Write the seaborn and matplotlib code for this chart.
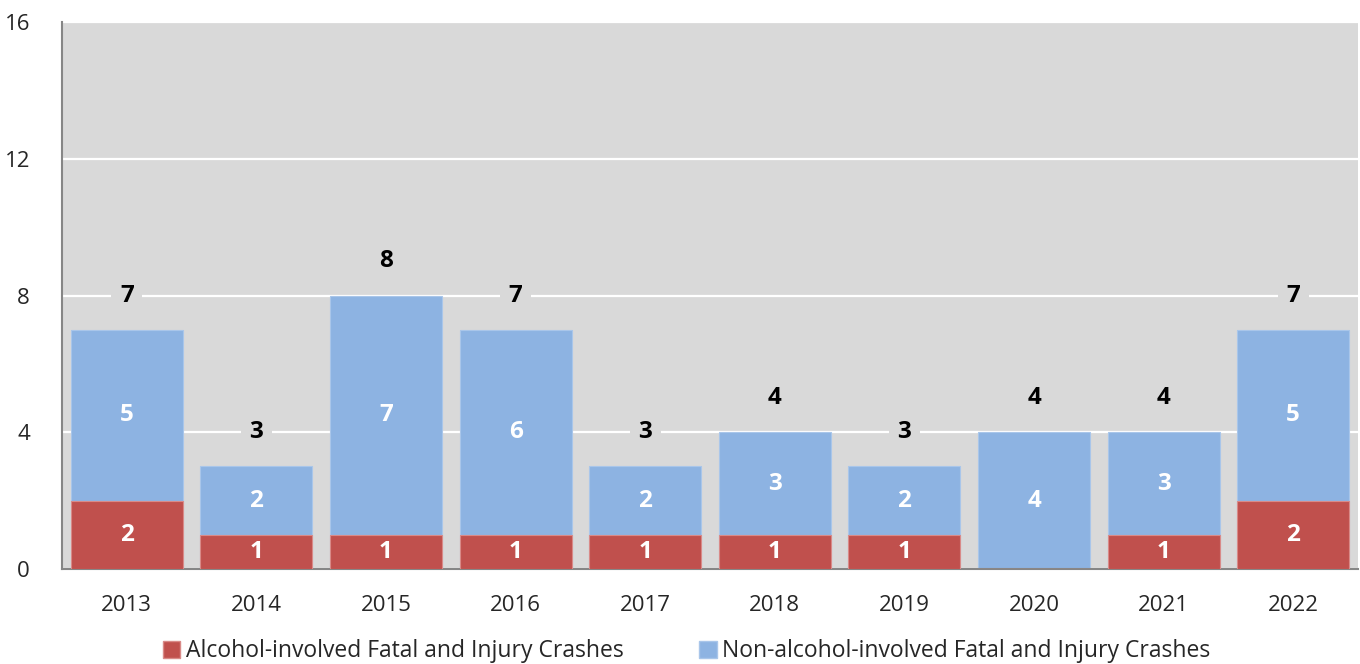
import numpy as np
import pandas as pd
import matplotlib
matplotlib.use("Agg")
import matplotlib.pyplot as plt
import seaborn as sns
from matplotlib.patches import Patch
from matplotlib.ticker import FixedLocator

years = ["2013", "2014", "2015", "2016", "2017", "2018", "2019", "2020", "2021", "2022"]
alcohol = [2, 1, 1, 1, 1, 1, 1, 0, 1, 2]
non_alcohol = [5, 2, 7, 6, 2, 3, 2, 4, 3, 5]
series_names = ["Alcohol-involved Fatal and Injury Crashes",
                "Non-alcohol-involved Fatal and Injury Crashes"]

RED = "#C0504D"
BLUE = "#8DB3E2"
BG = "#D9D9D9"
AXIS = "#868686"

df = pd.DataFrame({"year": years, "alcohol": alcohol, "non_alcohol": non_alcohol})
df["total"] = df["alcohol"] + df["non_alcohol"]

sns.set_style("white")
plt.rcParams["font.family"] = ["Open Sans", "DejaVu Sans"]
FS = 16
LFS = 17.5

fig = plt.figure(figsize=(13.6, 6.64), dpi=100)
ax = fig.add_axes([62 / 1360, 95 / 664, 1296 / 1360, 547 / 664])
ax.set_facecolor(BG)

# stacked: draw total in blue, alcohol in red over it
sns.barplot(data=df, x="year", y="total", color=BLUE, saturation=1, width=0.865,
            edgecolor="#A9C6EA", linewidth=0.8, ax=ax, zorder=2)
sns.barplot(data=df, x="year", y="alcohol", color=RED, saturation=1, width=0.865,
            edgecolor="#D98A88", linewidth=0.8, ax=ax, zorder=3)

ax.set_ylim(0, 16)
ax.set_xlim(-0.5, len(years) - 0.5)
ax.set_yticks([0, 4, 8, 12, 16])
ax.yaxis.grid(True, color="white", linewidth=1.6, zorder=1)
ax.set_axisbelow(True)
ax.set_xlabel("")
ax.set_ylabel("")

for s in ["top", "right"]:
    ax.spines[s].set_visible(False)
for s in ["left", "bottom"]:
    ax.spines[s].set_color(AXIS)
    ax.spines[s].set_linewidth(1.5)

ax.tick_params(axis="x", which="major", length=0, labelsize=FS, pad=19)
ax.xaxis.set_minor_locator(FixedLocator(np.arange(-0.5, len(years), 1)))
ax.tick_params(axis="x", which="minor", length=8, color=AXIS, width=1.5, direction="out")
ax.tick_params(axis="y", length=7, color=AXIS, width=1.5, labelsize=FS, pad=16)

for i, row in df.iterrows():
    if row["alcohol"] > 0:
        ax.text(i, row["alcohol"] / 2, str(row["alcohol"]), ha="center", va="center",
                color="white", fontsize=LFS, fontweight="bold", zorder=5)
    if row["non_alcohol"] > 0:
        ax.text(i, row["alcohol"] + row["non_alcohol"] / 2, str(row["non_alcohol"]),
                ha="center", va="center", color="white", fontsize=LFS,
                fontweight="bold", zorder=5)
    ax.text(i, row["total"] + 1, str(row["total"]), ha="center", va="center",
            color="black", fontsize=LFS, fontweight="bold", zorder=5,
            bbox=dict(boxstyle="square,pad=0.35", facecolor=BG, edgecolor="none"))

handles = [Patch(facecolor=RED, edgecolor="#D98A88"), Patch(facecolor=BLUE, edgecolor="#A9C6EA")]
fig.legend(handles, series_names, loc="lower center", bbox_to_anchor=(0.505, -0.03),
           ncol=2, frameon=False, fontsize=16.5, handlelength=0.75, handleheight=0.75,
           handletextpad=0.25, columnspacing=3.3)

fig.savefig("out.png", dpi=100)
